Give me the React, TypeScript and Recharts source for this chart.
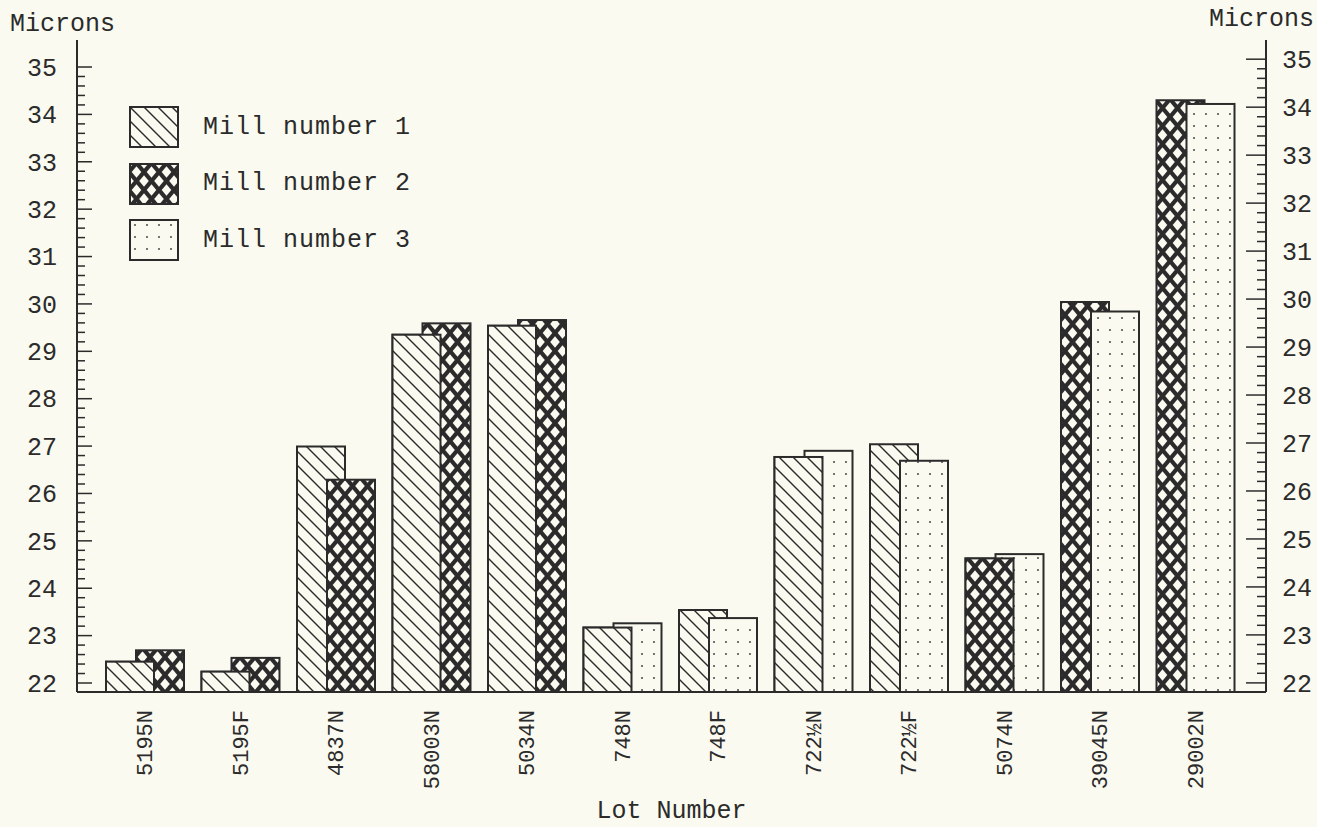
import { BarChart, Bar, XAxis, YAxis, Cell, Legend } from "recharts";

const lots = ["5195N", "5195F", "4837N", "58003N", "5034N", "748N", "748F", "722½N", "722½F", "5074N", "39045N", "29002N"];
const mill1 = [22.45, 22.24, 26.99, 29.35, 29.54, 23.17, 23.54, 26.77, 27.04, null, null, null];
const mill2 = [22.69, 22.53, 26.29, 29.59, 29.66, null, null, null, null, 24.63, 30.04, 34.3];
const mill3 = [null, null, null, null, null, 23.26, 23.37, 26.9, 26.69, 24.72, 29.84, 34.22];
const yLabels = [22, 23, 24, 25, 26, 27, 28, 29, 30, 31, 32, 33, 34, 35];

const INK = "#2b2b2b";
const PAPER = "#fafaf0";
const FONT = "'Liberation Mono', 'DejaVu Sans Mono', monospace";
const Y_MIN = 21.81;
const BAR_W = 48;
const BAR_GAP = -18;

const mills = [
  { name: "Mill number 1", values: mill1, fill: "url(#hatch)" },
  { name: "Mill number 2", values: mill2, fill: "url(#cross)" },
  { name: "Mill number 3", values: mill3, fill: "url(#dots)" },
];

// each lot has exactly two mills side by side, overlapping
const data = lots.map((lot, i) => {
  const present = mills.filter((m) => m.values[i] != null);
  return {
    lot,
    left: present[0].values[i],
    right: present[1].values[i],
    leftFill: present[0].fill,
    rightFill: present[1].fill,
  };
});

// minor ticks every 0.2 between the labelled integers
const yTicks: number[] = [];
yLabels.forEach((v, i) => {
  yTicks.push(v);
  if (i < yLabels.length - 1) [1, 2, 3, 4].forEach((k) => yTicks.push(Math.round((v + k * 0.2) * 10) / 10));
});

// the shorter bar of a pair sits in front: redraw the left one over the right when it is shorter
function RightShape(props: any) {
  const { x, y, width, height, payload, fill } = props;
  const rects = [<rect key="r" x={x} y={y} width={width} height={height} fill={fill} stroke={INK} strokeWidth={2} />];
  if (payload.left < payload.right) {
    const h = (height * (payload.left - Y_MIN)) / (payload.right - Y_MIN);
    rects.push(
      <rect key="l" x={x - (BAR_W + BAR_GAP)} y={y + height - h} width={width} height={h}
        fill={payload.leftFill} stroke={INK} strokeWidth={2} />
    );
  }
  return <g>{rects}</g>;
}

function LeftTick({ x, y, payload }: any) {
  const major = Number.isInteger(payload.value);
  return (
    <g>
      <line x1={x} x2={x + (major ? 15 : 8)} y1={y} y2={y} stroke={INK} strokeWidth={1.5} />
      {major && (
        <text x={x - 20} y={y} dy="0.35em" textAnchor="end" fontFamily={FONT} fontSize={25} fill={INK}>
          {payload.value}
        </text>
      )}
    </g>
  );
}

function RightTick({ x, y, payload }: any) {
  const major = Number.isInteger(payload.value);
  return (
    <g>
      <line x1={x - (major ? 20 : 9)} x2={x} y1={y} y2={y} stroke={INK} strokeWidth={1.5} />
      {major && (
        <text x={x + 16} y={y} dy="0.35em" textAnchor="start" fontFamily={FONT} fontSize={25} fill={INK}>
          {payload.value}
        </text>
      )}
    </g>
  );
}

function LotTick({ x, y, payload }: any) {
  return (
    <text
      x={x}
      y={y + 10}
      dy="0.35em"
      textAnchor="end"
      transform={`rotate(-90 ${x} ${y + 10})`}
      fontFamily={FONT}
      fontSize={22}
      fill={INK}
    >
      {payload.value}
    </text>
  );
}

function MillLegend() {
  return (
    <div style={{ fontFamily: FONT, fontSize: 25, color: INK, letterSpacing: 1 }}>
      {mills.map((m) => (
        <div key={m.name} style={{ display: "flex", alignItems: "center", height: 56.5 }}>
          <svg width={50} height={42} style={{ marginRight: 24 }}>
            <rect x={1} y={1} width={48} height={40} fill={m.fill} stroke={INK} strokeWidth={2} />
          </svg>
          <span>{m.name}</span>
        </div>
      ))}
    </div>
  );
}

export default function App() {
  return (
    <div style={{ position: "absolute", left: 0, top: 0, width: 1317, height: 827, background: PAPER }}>
      <BarChart
        width={1317}
        height={827}
        data={data}
        margin={{ top: 40, right: 0, bottom: 35, left: 0 }}
        barSize={BAR_W}
        barGap={BAR_GAP}
      >
        <defs>
          <pattern id="hatch" patternUnits="userSpaceOnUse" width={14} height={14}>
            <rect width={14} height={14} fill={PAPER} />
            <path d="M0,0 L14,14 M-7,7 L7,21 M7,-7 L21,7" stroke={INK} strokeWidth={1.4} />
          </pattern>
          <pattern id="cross" patternUnits="userSpaceOnUse" width={15} height={18}>
            <rect width={15} height={18} fill={INK} />
            <polygon points="7.5,3.2 12.3,9 7.5,14.8 2.7,9" fill={PAPER} />
            <polygon points="0,-5.8 4.8,0 0,5.8 -4.8,0" fill={PAPER} />
            <polygon points="15,-5.8 19.8,0 15,5.8 10.2,0" fill={PAPER} />
            <polygon points="0,12.2 4.8,18 0,23.8 -4.8,18" fill={PAPER} />
            <polygon points="15,12.2 19.8,18 15,23.8 10.2,18" fill={PAPER} />
          </pattern>
          <pattern id="dots" patternUnits="userSpaceOnUse" width={12} height={12}>
            <rect width={12} height={12} fill={PAPER} />
            <circle cx={6} cy={6} r={1.1} fill="#555" />
          </pattern>
        </defs>
        <XAxis
          dataKey="lot"
          interval={0}
          height={100}
          padding={{ left: 20, right: 23 }}
          axisLine={{ stroke: INK, strokeWidth: 2 }}
          tickLine={false}
          tick={<LotTick />}
          label={{ value: "Lot Number", position: "bottom", offset: 8, fontFamily: FONT, fontSize: 25, fill: INK }}
        />
        <YAxis
          yAxisId="left"
          orientation="left"
          width={77}
          type="number"
          domain={[Y_MIN, 35.57]}
          allowDataOverflow
          ticks={yTicks}
          interval={0}
          tickSize={0}
          tickMargin={0}
          tickLine={false}
          tick={<LeftTick />}
          axisLine={{ stroke: INK, strokeWidth: 2 }}
          label={{ value: "Microns", position: "insideTopLeft", content: () => (
            <text x={10} y={31} fontFamily={FONT} fontSize={25} fill={INK}>Microns</text>
          ) }}
        />
        <YAxis
          yAxisId="right"
          orientation="right"
          width={51}
          type="number"
          domain={[Y_MIN, 35.4]}
          allowDataOverflow
          ticks={yTicks}
          interval={0}
          tickSize={0}
          tickMargin={0}
          tickLine={false}
          tick={<RightTick />}
          axisLine={{ stroke: INK, strokeWidth: 2 }}
          label={{ value: "Microns", position: "insideTopRight", content: () => (
            <text x={1314} y={26} textAnchor="end" fontFamily={FONT} fontSize={25} fill={INK}>Microns</text>
          ) }}
        />
        <Legend
          layout="vertical"
          align="center"
          verticalAlign="middle"
          content={<MillLegend />}
          wrapperStyle={{ position: "absolute", left: 129, top: 99, width: 320, height: 170 }}
        />
        <Bar yAxisId="left" dataKey="left" stroke={INK} strokeWidth={2} isAnimationActive={false}>
          {data.map((d) => (
            <Cell key={d.lot} fill={d.leftFill} />
          ))}
        </Bar>
        <Bar yAxisId="left" dataKey="right" shape={<RightShape />} isAnimationActive={false}>
          {data.map((d) => (
            <Cell key={d.lot} fill={d.rightFill} />
          ))}
        </Bar>
      </BarChart>
    </div>
  );
}
